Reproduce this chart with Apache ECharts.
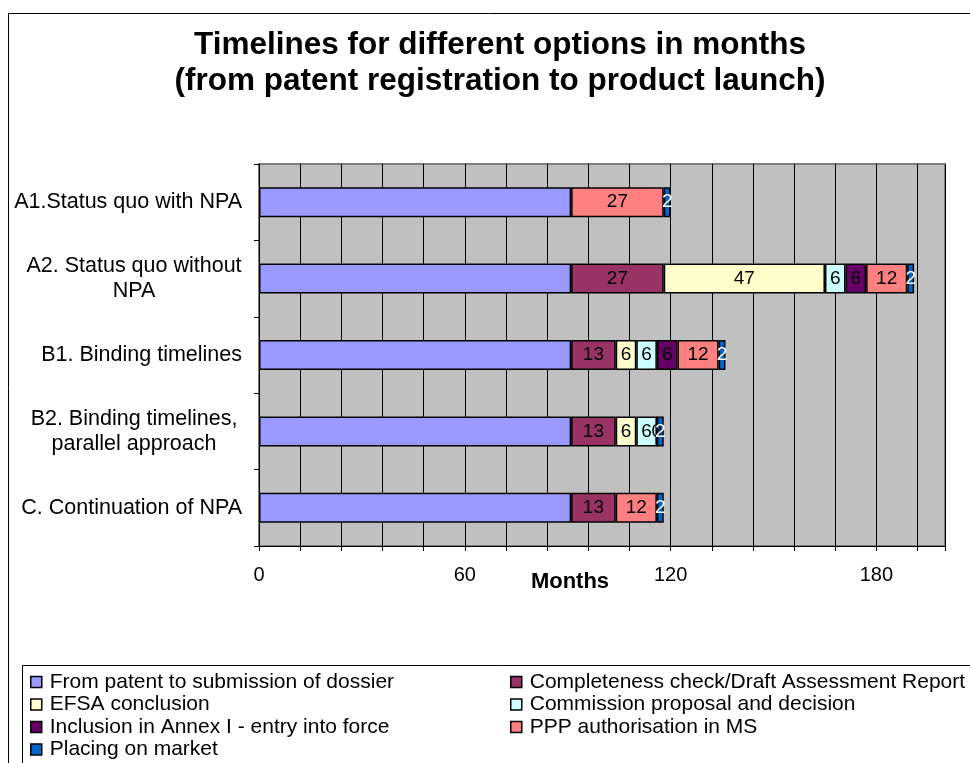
<!DOCTYPE html>
<html>
<head>
<meta charset="utf-8">
<script src="https://cdn.jsdelivr.net/npm/echarts@6/dist/echarts.min.js"></script>
<style>html,body{margin:0;padding:0;background:#fff}#c{width:970px;height:763px}</style>
</head>
<body>
<div id="c"></div>
<script>
const categories = ['A1.Status quo with NPA', 'A2. Status quo without\nNPA', 'B1. Binding timelines', 'B2. Binding timelines,\nparallel approach', 'C. Continuation of NPA'];
const seriesNames = ['From patent to submission of dossier', 'Completeness check/Draft Assessment Report', 'EFSA conclusion', 'Commission proposal and decision', 'Inclusion in Annex I - entry into force', 'PPP authorisation in MS', 'Placing on market'];
const patentToDossier = [91, 91, 91, 91, 91];
const completenessCheck = [null, 27, 13, 13, 13];
const efsaConclusion = [null, 47, 6, 6, null];
const commissionDecision = [null, 6, 6, 6, null];
const annexInclusion = [null, 6, 6, 0, null];
const pppAuthorisation = [27, 12, 12, null, 12];
const placingOnMarket = [2, 2, 2, 2, 2];
const xTickLabels = [0, 60, 120, 180];

const colors = ['#9999FF', '#993366', '#FFFFCC', '#CCFFFF', '#660066', '#FF8080', '#0066CC'];
const values = [patentToDossier, completenessCheck, efsaConclusion, commissionDecision, annexInclusion, pppAuthorisation, placingOnMarket];
const sans = "'Liberation Sans', Arial, sans-serif";

const series = seriesNames.map((n, i) => ({
  name: n,
  type: 'bar',
  stack: 'total',
  barWidth: 30,
  data: values[i],
  itemStyle: { color: colors[i], borderColor: '#000', borderWidth: 1.5 },
  label: {
    show: i !== 0,
    position: 'inside',
    fontFamily: sans,
    fontSize: 19,
    color: i === 6 ? '#fff' : '#000'
  },
  emphasis: { disabled: true }
}));

const legendCommon = {
  orient: 'vertical', top: 671.5, padding: 0, itemGap: 1.5, itemWidth: 11, itemHeight: 11, icon: 'rect', selectedMode: false,
  itemStyle: { borderColor: '#000', borderWidth: 1.5 },
  textStyle: { fontFamily: sans, fontSize: 21, color: '#000', lineHeight: 21, padding: [0, 0, 0, 3] }
};

const chart = echarts.init(document.getElementById('c'), null, { renderer: 'canvas' });
chart.setOption({
  animation: false,
  backgroundColor: '#fff',
  title: {
    text: 'Timelines for different options in months\n(from patent registration to product launch)',
    left: 495,
    textAlign: 'center',
    top: 22,
    textStyle: { fontFamily: sans, fontSize: 31.5, fontWeight: 'bold', color: '#000', lineHeight: 36 }
  },
  graphic: [
    { type: 'rect', shape: { x: 8.5, y: 13.5, width: 1000, height: 800 }, style: { fill: 'none', stroke: '#000', lineWidth: 1 }, silent: true },
    { type: 'rect', shape: { x: 22.5, y: 665.5, width: 1000, height: 200 }, style: { fill: 'none', stroke: '#000', lineWidth: 1 }, silent: true }
  ],
  legend: [
    Object.assign({}, legendCommon, { left: 30, data: [seriesNames[0], seriesNames[2], seriesNames[4], seriesNames[6]] }),
    Object.assign({}, legendCommon, { left: 510, data: [seriesNames[1], seriesNames[3], seriesNames[5]] })
  ],
  grid: {
    left: 259, right: 25, top: 164, bottom: 217,
    show: true, backgroundColor: '#C0C0C0', borderColor: '#808080', borderWidth: 2,
    outerBoundsMode: 'none'
  },
  xAxis: {
    type: 'value', min: 0, max: 200, interval: 12,
    name: 'Months', nameLocation: 'middle', nameGap: 25, nameMoveOverlap: false,
    nameTextStyle: { fontFamily: sans, fontSize: 22, fontWeight: 'bold', color: '#000', padding: [0, 64, 0, 0] },
    axisLine: { show: true, lineStyle: { color: '#000', width: 1 } },
    axisTick: { show: true, length: 5, lineStyle: { color: '#000' } },
    axisLabel: {
      margin: 19, fontFamily: sans, fontSize: 20, color: '#000',
      formatter: v => xTickLabels.indexOf(v) >= 0 ? String(v) : ''
    },
    splitLine: { show: true, lineStyle: { color: '#000', width: 1 } }
  },
  yAxis: {
    type: 'category', inverse: true, data: categories,
    axisLine: { show: true, lineStyle: { color: '#000', width: 1 } },
    axisTick: { show: true, length: 5, lineStyle: { color: '#000' } },
    axisLabel: {
      margin: 17, fontFamily: sans, fontSize: 21.5, color: '#000', lineHeight: 25,
      formatter: v => v.indexOf('\n') >= 0 ? v.split('\n').map(s => '{c|' + s + '}').join('\n') : v,
      rich: { c: { width: 216, align: 'center', fontFamily: sans, fontSize: 21.5, color: '#000', lineHeight: 25 } }
    },
    splitLine: { show: false }
  },
  series: series
});
</script>
</body>
</html>
